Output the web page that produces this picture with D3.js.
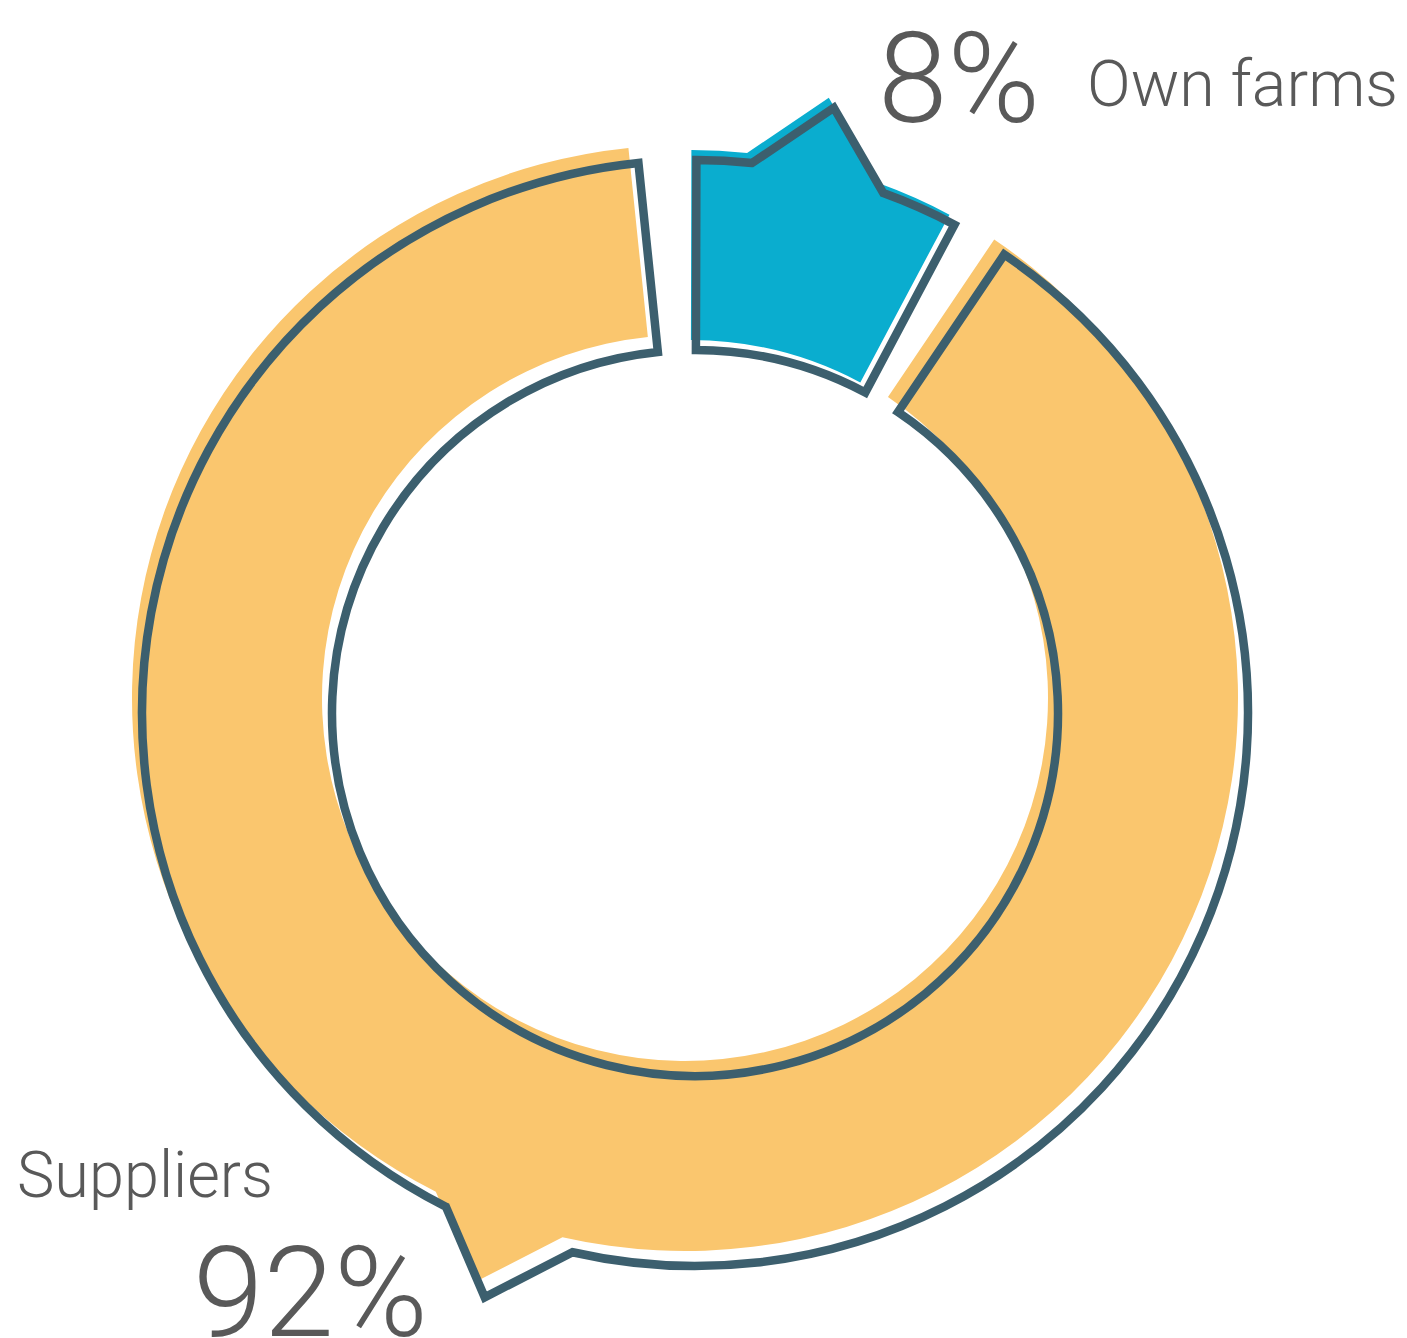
<!DOCTYPE html>
<html>
<head>
<meta charset="utf-8">
<script src="https://cdn.jsdelivr.net/npm/d3@7"></script>
<style>
  body { margin: 0; background: #fff; }
  svg { display: block; }
  text { font-family: "Roboto", "Lato", sans-serif; font-weight: 300; fill: #595959; }
</style>
</head>
<body>
<script>
// chart data
const categories = ["Own farms", "Suppliers"];
const shares = [8, 92];
const shareLabels = ["8%", "92%"];

const colors = ["#0AADCF", "#FAC66E"];
const outlineColor = "#3C5F6E";

const width = 1407, height = 1338;
const cx = 695, cy = 713;
const outerR = 553, innerR = 363;
const padAngle = 0.105;

// speech-bubble tails: half width (rad), length past the outer radius, shift from mid angle
const tailHalf = 0.122, tailLen = 68;
const tailShift = [-0.02, 0.1];
// the coloured fill sits a little up-left from its outline
const fillOffset = [[-5, -10], [-10, -15]];

const svg = d3.select("body").append("svg")
    .attr("width", width)
    .attr("height", height);

const start = -0.05;
const pie = d3.pie()
    .sort(null)
    .padAngle(padAngle)
    .startAngle(start)
    .endAngle(start + 2 * Math.PI);

const arcs = pie(shares);

function pt(a, r) {
    // pie angle (clockwise from 12 o'clock) to x,y relative to centre
    return [r * Math.sin(a), -r * Math.cos(a)];
}

function slicePath(d, i) {
    // gaps are plain angular cuts, as in the original
    const a0 = d.startAngle + d.padAngle / 2, a1 = d.endAngle - d.padAngle / 2;
    const mid = (a0 + a1) / 2 + tailShift[i];
    const t0 = mid - tailHalf, t1 = mid + tailHalf;
    const path = d3.path();
    const s = pt(a0, outerR);
    path.moveTo(s[0], s[1]);
    path.arc(0, 0, outerR, a0 - Math.PI / 2, t0 - Math.PI / 2, false);
    const tip = pt(mid, outerR + tailLen);
    path.lineTo(tip[0], tip[1]);
    const b = pt(t1, outerR);
    path.lineTo(b[0], b[1]);
    path.arc(0, 0, outerR, t1 - Math.PI / 2, a1 - Math.PI / 2, false);
    const e = pt(a1, innerR);
    path.lineTo(e[0], e[1]);
    path.arc(0, 0, innerR, a1 - Math.PI / 2, a0 - Math.PI / 2, true);
    path.closePath();
    return path.toString();
}

const g = svg.append("g")
    .attr("transform", "translate(" + cx + "," + cy + ")");

// fills
g.selectAll("path.fill")
    .data(arcs)
    .enter().append("path")
    .attr("class", "fill")
    .attr("d", slicePath)
    .attr("transform", (d, i) => "translate(" + fillOffset[i][0] + "," + fillOffset[i][1] + ")")
    .style("fill", (d, i) => colors[i]);

// outlines
g.selectAll("path.outline")
    .data(arcs)
    .enter().append("path")
    .attr("class", "outline")
    .attr("d", slicePath)
    .style("fill", "none")
    .style("stroke", outlineColor)
    .style("stroke-width", 8.5)
    .style("stroke-linejoin", "miter");

// labels
svg.append("text")
    .attr("x", 878).attr("y", 122)
    .attr("font-size", 126)
    .attr("textLength", 162).attr("lengthAdjust", "spacingAndGlyphs")
    .text(shareLabels[0]);

svg.append("text")
    .attr("x", 1087).attr("y", 106)
    .attr("font-size", 64)
    .attr("textLength", 311).attr("lengthAdjust", "spacingAndGlyphs")
    .text(categories[0]);

svg.append("text")
    .attr("x", 17).attr("y", 1197)
    .attr("font-size", 64)
    .attr("textLength", 256).attr("lengthAdjust", "spacingAndGlyphs")
    .text(categories[1]);

svg.append("text")
    .attr("x", 193).attr("y", 1336)
    .attr("font-size", 126)
    .attr("textLength", 235).attr("lengthAdjust", "spacingAndGlyphs")
    .text(shareLabels[1]);
</script>
</body>
</html>
